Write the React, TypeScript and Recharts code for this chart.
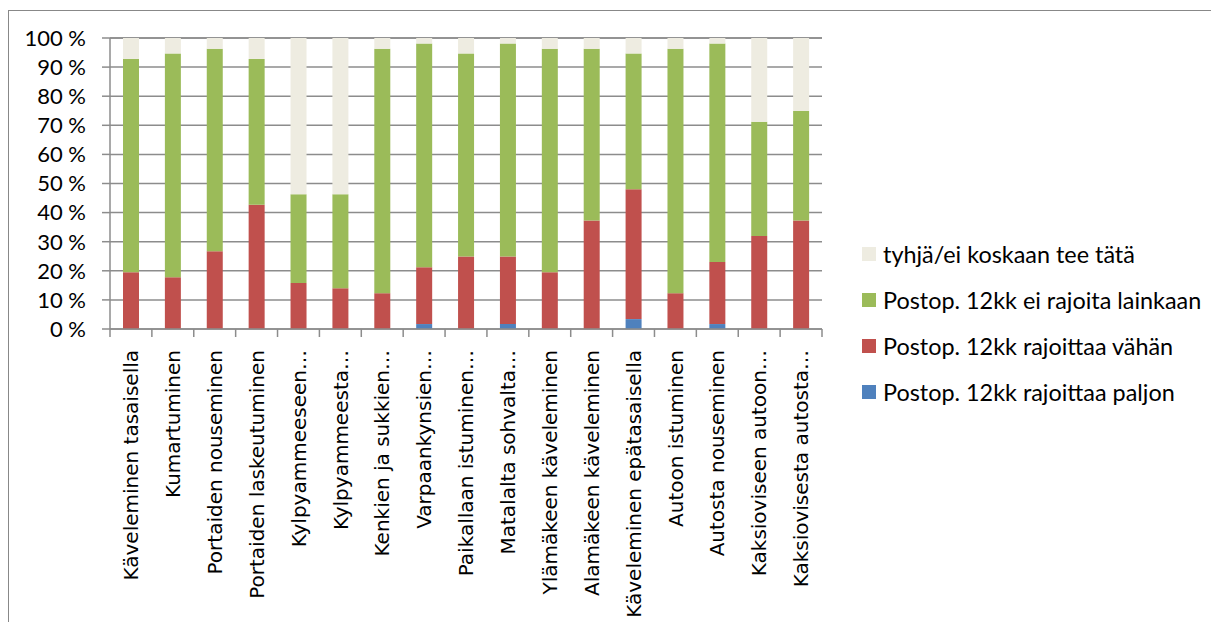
import { BarChart, Bar, XAxis, YAxis, CartesianGrid } from 'recharts'

const categories = [
  'Käveleminen tasaisella',
  'Kumartuminen',
  'Portaiden nouseminen',
  'Portaiden laskeutuminen',
  'Kylpyammeeseen…',
  'Kylpyammeesta…',
  'Kenkien ja sukkien…',
  'Varpaankynsien…',
  'Paikallaan istuminen…',
  'Matalalta sohvalta…',
  'Ylämäkeen käveleminen',
  'Alamäkeen käveleminen',
  'Käveleminen epätasaisella',
  'Autoon istuminen',
  'Autosta nouseminen',
  'Kaksioviseen autoon…',
  'Kaksiovisesta autosta…',
]

const paljon = [0, 0, 0, 0, 0, 0, 0, 1.7, 0, 1.7, 0, 0, 3.4, 0, 1.7, 0, 0]
const vahan = [19.5, 17.8, 26.7, 42.7, 15.8, 14.0, 12.3, 19.5, 24.9, 23.2, 19.5, 37.3, 44.6, 12.3, 21.3, 32.0, 37.3]
const eiRajoita = [73.3, 76.9, 69.6, 50.1, 30.5, 32.3, 84.0, 76.9, 69.8, 73.2, 76.8, 59.0, 46.7, 84.0, 75.1, 39.2, 37.6]
const tyhja = [7.2, 5.3, 3.7, 7.2, 53.7, 53.7, 3.7, 1.9, 5.3, 1.9, 3.7, 3.7, 5.3, 3.7, 1.9, 28.8, 25.1]

const yTicks = [0, 10, 20, 30, 40, 50, 60, 70, 80, 90, 100]

const series = [
  { key: 'tyhja', name: 'tyhjä/ei koskaan tee tätä', color: '#EEECE1' },
  { key: 'eiRajoita', name: 'Postop. 12kk ei rajoita lainkaan', color: '#9BBB59' },
  { key: 'vahan', name: 'Postop. 12kk rajoittaa vähän', color: '#C0504D' },
  { key: 'paljon', name: 'Postop. 12kk rajoittaa paljon', color: '#4F81BD' },
]

const data = categories.map((name, i) => ({
  name,
  paljon: paljon[i],
  vahan: vahan[i],
  eiRajoita: eiRajoita[i],
  tyhja: tyhja[i],
}))

const PLOT_LEFT = 110
const PLOT_RIGHT = 822
const SLOT = (PLOT_RIGHT - PLOT_LEFT) / categories.length
const AXIS_GRAY = '#8c8c8c'

function CategoryTick(props: any) {
  const { x, y, payload, index } = props
  const left = x - SLOT / 2
  return (
    <g>
      <line x1={left} x2={left} y1={y} y2={y + 8} stroke={AXIS_GRAY} strokeWidth={1.5} />
      {index === categories.length - 1 && (
        <line x1={x + SLOT / 2} x2={x + SLOT / 2} y1={y} y2={y + 8} stroke={AXIS_GRAY} strokeWidth={1.5} />
      )}
      <text
        x={0}
        y={0}
        transform={`translate(${x},${y + 21}) rotate(-90)`}
        textAnchor="end"
        dy="0.36em"
        fontFamily="DejaVu Sans"
        fontSize={20}
        fill="#000"
      >
        {payload.value}
      </text>
    </g>
  )
}

function LegendBox() {
  return (
    <div style={{ position: 'absolute', left: 862, top: 231, fontFamily: 'Lato', fontSize: 23.4, color: '#000' }}>
      {series.map((s) => (
        <div key={s.key} style={{ display: 'flex', alignItems: 'center', height: 46, whiteSpace: 'nowrap' }}>
          <span style={{ width: 14, height: 14, background: s.color, marginRight: 7, display: 'inline-block' }} />
          <span>{s.name}</span>
        </div>
      ))}
    </div>
  )
}

export default function App() {
  return (
    <div style={{ position: 'relative', width: 1219, height: 630, margin: -8, background: '#fff', overflow: 'hidden' }}>
      <BarChart
        width={1219}
        height={630}
        data={data}
        margin={{ top: 38, right: 1219 - PLOT_RIGHT, bottom: 0, left: 20 }}
        barSize={16}
        style={{ position: 'absolute', left: 0, top: 0 }}
      >
        <CartesianGrid vertical={false} stroke={AXIS_GRAY} strokeWidth={1.5} />
        <XAxis
          dataKey="name"
          interval={0}
          height={301}
          tickSize={0}
          tickMargin={0}
          tickLine={false}
          axisLine={{ stroke: AXIS_GRAY, strokeWidth: 1.5 }}
          tick={<CategoryTick />}
        />
        <YAxis
          width={90}
          domain={[0, 100]}
          ticks={yTicks}
          interval={0}
          tickFormatter={(v: number) => `${v} %`}
          tickSize={8}
          tickMargin={16}
          tickLine={{ stroke: AXIS_GRAY, strokeWidth: 1.5 }}
          axisLine={{ stroke: AXIS_GRAY, strokeWidth: 1.5 }}
          tick={{ fill: '#000', fontFamily: 'Lato', fontSize: 22 }}
        />
        <Bar dataKey="paljon" stackId="a" fill="#4F81BD" isAnimationActive={false} />
        <Bar dataKey="vahan" stackId="a" fill="#C0504D" isAnimationActive={false} />
        <Bar dataKey="eiRajoita" stackId="a" fill="#9BBB59" isAnimationActive={false} />
        <Bar dataKey="tyhja" stackId="a" fill="#EEECE1" isAnimationActive={false} />
      </BarChart>
      <LegendBox />
      {/* chart frame: only the top and left edges show in the crop */}
      <div style={{ position: 'absolute', left: 7, top: 10, width: 1212, height: 1, background: '#888' }} />
      <div style={{ position: 'absolute', left: 7, top: 10, width: 2, height: 620, background: '#888' }} />
    </div>
  )
}
